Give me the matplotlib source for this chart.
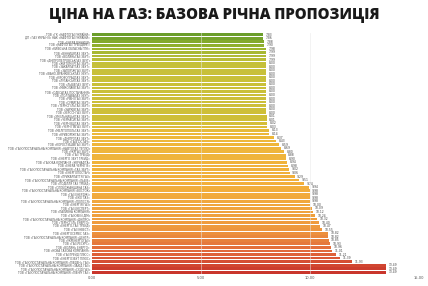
import matplotlib
matplotlib.use("Agg")
import matplotlib.pyplot as plt
from matplotlib.colors import LinearSegmentedColormap
import numpy as np

title = "ЦІНА НА ГАЗ: БАЗОВА РІЧНА ПРОПОЗИЦІЯ"

companies = [
    'ТОВ «ГК «НАФТОГАЗ УКРАЇНИ»',
    'ДП «ГАЗ УКРАЇНИ» НАК «НАФТОГАЗ УКРАЇНИ»',
    'ТОВ «ЕНЕРА ВІННИЦЯ»',
    'ТОВ «НАФТОГАЗ ТРЕЙДИНГ»',
    'ТОВ «КИЇВСЬКА ОБЛАСНА ГПК»',
    'ТОВ «ВІННИЦЯГАЗ ЗБУТ»',
    'ТОВ «ВОЛИНЬГАЗ ЗБУТ»',
    'ТОВ «ДНІПРОПЕТРОВСЬКГАЗ ЗБУТ»',
    'ТОВ «ЖИТОМИРГАЗ ЗБУТ»',
    'ТОВ «ЗАКАРПАТГАЗ ЗБУТ»',
    'ТОВ «ЗАПОРІЖГАЗ ЗБУТ»',
    'ТОВ «ІВАНО-ФРАНКІВСЬКГАЗ ЗБУТ»',
    'ТОВ «КІРОВОГРАДГАЗ ЗБУТ»',
    'ТОВ «ЛУГАНСЬКГАЗ ЗБУТ»',
    'ТОВ «ЛЬВІВГАЗ ЗБУТ»',
    'ТОВ «МИКОЛАЇВГАЗ ЗБУТ»',
    'ТОВ «ОДЕСАГАЗ-ПОСТАЧАННЯ»',
    'ТОВ «ПОЛТАВАГАЗ ЗБУТ»',
    'ТОВ «РІВНЕГАЗ ЗБУТ»',
    'ТОВ «СУМИГАЗ ЗБУТ»',
    'ТОВ «ТЕРНОПІЛЬГАЗ ЗБУТ»',
    'ТОВ «ХАРКІВГАЗ ЗБУТ»',
    'ТОВ «ХЕРСОНГАЗ ЗБУТ»',
    'ТОВ «ХМЕЛЬНИЦЬКГАЗ ЗБУТ»',
    'ТОВ «ЧЕРКАСИГАЗ ЗБУТ»',
    'ТОВ «ЧЕРНІВЦІГАЗ ЗБУТ»',
    'ТОВ «ЧЕРНІГІВГАЗ ЗБУТ»',
    'ТОВ «МЕЛІТОПОЛЬГАЗ ЗБУТ»',
    'ТОВ «КРИВОРІЖГАЗ ЗБУТ»',
    'ТОВ «ДНІПРОГАЗ ЗБУТ»',
    'ТОВ «ГАЗПОСТАЧ»',
    'ТОВ «КОРОСТИШІВГАЗ ЗБУТ»',
    'ТОВ «ГАЗОПОСТАЧАЛЬНА КОМПАНІЯ «НАФТОГАЗ ТЕПЛО»',
    'ТОВ «УКРГАЗ ЗБУТ»',
    'ТОВ «ГАЗ ТРЕЙД»',
    'ТОВ «ЕНЕРГО ЗБУТ ТРЕЙД»',
    'ТОВ «ГАЗОВА КОМПАНІЯ «УКРНАФТА»',
    'ТОВ «ЕНЕРА ЧЕРНІГІВ»',
    'ТОВ «ГАЗОПОСТАЧАЛЬНА КОМПАНІЯ «ГАЗ-ЗБУТ»',
    'ТОВ «ЕНЕРГОПОСТАЧ»',
    'ТОВ «ПРИКАРПАТТЯ ГАЗ»',
    'ТОВ «ГАЗОПОСТАЧАЛЬНА КОМПАНІЯ «ЛЬВІВ»',
    'ТОВ «ПОДІЛЛЯ ГАЗ ТРЕЙД»',
    'ТОВ «СЛОБОЖАНЩИНА ГАЗ»',
    'ТОВ «ГАЗОПОСТАЧАЛЬНА КОМПАНІЯ «ВОСТОК»',
    'ТОВ «ГАЗ ЕНЕРДЖІ»',
    'ТОВ «ЕКО ГАЗ»',
    'ТОВ «ГАЗОПОСТАЧАЛЬНА КОМПАНІЯ «ПОЛІССЯ»',
    'ТОВ «ЕНЕРГІЯ ГАЗ»',
    'ТОВ «ГАЗ-ЕКСПЕРТ»',
    'ТОВ «ПАЛИВНА КОМПАНІЯ»',
    'ТОВ «ГАЗОВИЙ ДІМ»',
    'ТОВ «ГАЗОПОСТАЧАЛЬНА КОМПАНІЯ «ДНІПРО»',
    'ТОВ «ТЕРНОПІЛЬ ЕНЕРГО»',
    'ТОВ «ЕНЕРГО-ГАЗ ТРЕЙД»',
    'ТОВ «ГАЗ ІНВЕСТ»',
    'ТОВ «ЕНЕРГОСЕРВІС ГАЗ»',
    'ТОВ «ГАЗОПОСТАЧАЛЬНА КОМПАНІЯ «ЦЕНТР»',
    'ТОВ «УКРЕНЕРГОГАЗ»',
    'ТОВ «ГАЗ-РЕСУРС»',
    'ТОВ «ВОЛИНЬ ЕНЕРГО»',
    'ТОВ «НОВА ГАЗОВА КОМПАНІЯ»',
    'ТОВ «ГАЗТРЕЙД ПЛЮС»',
    'ТОВ «ЕНЕРГОЗБУТ ПЛЮС»',
    'ТОВ «ГАЗОПОСТАЧАЛЬНА КОМПАНІЯ «ПІВДЕНЬ ГАЗ»',
    'ТОВ «ГАЗОПОСТАЧАЛЬНА КОМПАНІЯ «ЗАХІД ГАЗ»',
    'ТОВ «ГАЗОПОСТАЧАЛЬНА КОМПАНІЯ «СХІД ГАЗ»',
    'ТОВ «ГАЗОПОСТАЧАЛЬНА КОМПАНІЯ «ПІВНІЧ ГАЗ»',
]

prices = [
    7.83, 7.86, 7.88, 7.90, 7.98,
    7.99, 7.99, 7.99, 8.00, 8.00, 8.00, 8.00, 8.00, 8.00, 8.00, 8.00,
    8.00, 8.00, 8.00, 8.00, 8.00, 8.00, 8.00, 8.01, 8.01, 8.02, 8.03,
    8.13, 8.14, 8.37, 8.43, 8.59, 8.69, 8.80, 8.88, 8.90, 8.94, 8.98,
    9.02, 9.06, 9.29, 9.51, 9.74, 9.94, 9.98, 9.98, 9.98, 9.98, 10.00,
    10.09, 10.12, 10.24, 10.32, 10.40, 10.47, 10.55, 10.82, 10.82, 10.85,
    10.93, 10.96, 11.01, 11.21, 11.39, 11.93, 13.49, 13.49, 13.49,
]

xticks = [0, 5, 10, 15]

n = len(prices)
cmap = LinearSegmentedColormap.from_list("g", [
    (0.0, "#6b9e2b"), (0.06, "#9fb52f"), (0.12, "#c6c03a"), (0.36, "#cfbf38"),
    (0.42, "#eeb83a"), (0.65, "#f2ae3c"), (0.82, "#ee983e"), (0.92, "#e0643a"),
    (1.0, "#c9362c")])
colors = [cmap(i / (n - 1)) for i in range(n)]

fig = plt.figure(figsize=(4.28, 2.86), dpi=100)
ax = fig.add_axes([92 / 428, 1 - 274 / 286, (419 - 92) / 428, (274 - 33) / 286])

y = np.arange(n)
ax.barh(y, prices, height=0.78, color=colors, zorder=2)
for yi, v in zip(y, prices):
    ax.text(v + 0.12, yi, f"{v:.2f}", va="center", ha="left", fontsize=2.2, color="#444444")

ax.set_ylim(n - 0.5, -0.5)
ax.set_xlim(0, 15)
ax.set_xticks(xticks)
ax.set_xticklabels([f"{t:.2f}" for t in xticks], fontsize=2.6, color="#555555")
ax.set_yticks(y)
ax.set_yticklabels(companies, fontsize=2.0, color="#555555")
ax.tick_params(length=0, pad=1.5)
for s in ax.spines.values():
    s.set_visible(False)
for t in xticks[1:]:
    ax.axvline(t, color="#e8e8e8", lw=0.6, zorder=3, alpha=0.6)

fig.text(0.5, 1 - 15 / 286, title, ha="center", va="center", fontsize=10.7,
         fontweight="heavy", family=["Open Sans", "DejaVu Sans"], color="#1a1a1a")

fig.savefig("out.png", dpi=100)
